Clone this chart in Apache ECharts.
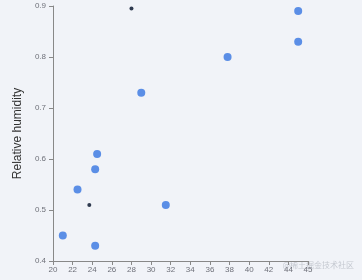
<!DOCTYPE html>
<html>
<head>
<meta charset="utf-8">
<script src="https://cdn.jsdelivr.net/npm/echarts@6/dist/echarts.min.js"></script>
<style>
html,body{margin:0;padding:0;background:#F1F3F8;}
#c{width:362px;height:280px;}
</style>
</head>
<body>
<div id="c"></div>
<script>
// Temperature vs relative humidity
const bigPoints = [
  [21, 0.45], [22.5, 0.54], [24.3, 0.43], [24.3, 0.58], [24.5, 0.61],
  [29, 0.73], [31.5, 0.51], [37.8, 0.80], [45, 0.89], [45, 0.83]
];
const smallPoints = [
  [23.7, 0.51], [28, 0.895]
];
const xTickLabels = ['20','22','24','26','28','30','32','34','36','38','40','42','44','45'];
const yAxisName = 'Relative humidity';
const watermark = '@稀土掘金技术社区';

const chart = echarts.init(document.getElementById('c'), null, {renderer: 'canvas'});
const labelFont = {color: '#6E7079', fontSize: 8, fontFamily: 'Liberation Sans, Arial, sans-serif'};
chart.setOption({
  backgroundColor: '#F1F3F8',
  animation: false,
  grid: {left: 53, right: 54, top: 6, bottom: 19},
  xAxis: {
    type: 'value', min: 20, max: 46, interval: 2,
    splitLine: {show: false},
    axisLine: {show: true, lineStyle: {color: '#888'}},
    axisTick: {show: true, length: 4, lineStyle: {color: '#888'}},
    axisLabel: Object.assign({margin: 5, formatter: (v) => {
      const i = Math.round((v - 20) / 2);
      return xTickLabels[i] !== undefined ? xTickLabels[i] : String(v);
    }}, labelFont)
  },
  yAxis: {
    type: 'value', min: 0.4, max: 0.9, interval: 0.1,
    name: yAxisName, nameLocation: 'middle', nameGap: 27,
    nameTextStyle: {color: '#333', fontSize: 12, fontFamily: 'Liberation Sans, Arial, sans-serif'},
    splitLine: {show: false},
    axisLine: {show: true, lineStyle: {color: '#888'}},
    axisTick: {show: true, length: 4, lineStyle: {color: '#888'}},
    axisLabel: Object.assign({margin: 7, formatter: (v) => v.toFixed(1)}, labelFont)
  },
  graphic: [{
    type: 'text', right: 8, top: 261,
    style: {text: watermark, fill: '#C4C8D0', fontSize: 8, fontFamily: 'Noto Sans CJK SC, sans-serif'}
  }],
  series: [
    {type: 'scatter', data: bigPoints, symbolSize: 8, itemStyle: {color: '#5B8EE6', opacity: 1}},
    {type: 'scatter', data: smallPoints, symbolSize: 4, itemStyle: {color: '#2F3A4F', opacity: 1}}
  ]
});
</script>
</body>
</html>
